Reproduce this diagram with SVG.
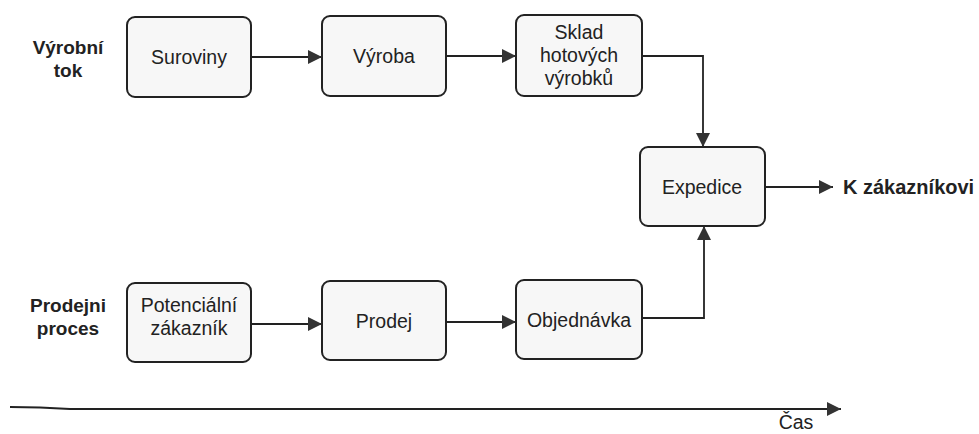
<svg xmlns="http://www.w3.org/2000/svg" width="979" height="434" viewBox="0 0 979 434">
<style>
.box{fill:#f7f7f7;stroke:#222;stroke-width:2}
.t{font-family:"Liberation Sans",Arial,sans-serif;font-size:19.5px;fill:#222;text-anchor:middle}
.lb{font-family:"Liberation Sans",Arial,sans-serif;font-size:19px;font-weight:bold;fill:#222}
.c{fill:none;stroke:#222;stroke-width:1.8}
</style>
<defs>
<marker id="ah" markerWidth="14" markerHeight="14" viewBox="0 0 14 14" refX="14" refY="7" orient="auto" markerUnits="userSpaceOnUse">
<path d="M0,0 L14,7 L0,14 Z" fill="#333"/>
</marker>
</defs>
<rect width="979" height="434" fill="#fff"/>
<text class="lb" x="68" y="54" text-anchor="middle">Výrobní</text>
<text class="lb" x="68" y="77" text-anchor="middle">tok</text>
<text class="lb" x="68" y="312" text-anchor="middle">Prodejni</text>
<text class="lb" x="68" y="335" text-anchor="middle">proces</text>
<g id="suroviny"><rect class="box" x="127" y="17" width="124" height="80" rx="8"/><text class="t" x="189" y="64">Suroviny</text></g>
<g id="vyroba"><rect class="box" x="322" y="16" width="124" height="80" rx="8"/><text class="t" x="384" y="63">Výroba</text></g>
<g id="sklad"><rect class="box" x="516" y="15" width="126" height="81" rx="8"/><text class="t" x="579" y="39">Sklad</text><text class="t" x="579" y="62">hotových</text><text class="t" x="579" y="85">výrobků</text></g>
<g id="expedice"><rect class="box" x="640" y="147" width="125" height="79" rx="8"/><text class="t" x="702" y="194">Expedice</text></g>
<g id="potencialni"><rect class="box" x="127" y="283" width="124" height="79" rx="8"/><text class="t" x="189" y="312">Potenciální</text><text class="t" x="189" y="335">zákazník</text></g>
<g id="prodej"><rect class="box" x="322" y="281" width="124" height="79" rx="8"/><text class="t" x="384" y="328">Prodej</text></g>
<g id="objednavka"><rect class="box" x="516" y="280" width="126" height="79" rx="8"/><text class="t" x="579" y="327">Objednávka</text></g>
<text class="lb" x="843" y="194" style="font-size:20px">K zákazníkovi</text>
<text class="t" x="796" y="429">Čas</text>
<g id="connectors">
<line class="c" x1="251" y1="57" x2="322" y2="57" marker-end="url(#ah)"/>
<line class="c" x1="446" y1="56" x2="516" y2="56" marker-end="url(#ah)"/>
<polyline class="c" points="642,56 703,56 703,147" marker-end="url(#ah)"/>
<line class="c" x1="765" y1="187" x2="833" y2="187" marker-end="url(#ah)"/>
<line class="c" x1="251" y1="324" x2="322" y2="324" marker-end="url(#ah)"/>
<line class="c" x1="446" y1="322" x2="516" y2="322" marker-end="url(#ah)"/>
<polyline class="c" points="642,318 704,318 704,226" marker-end="url(#ah)"/>
<path class="c" d="M10,407 Q40,407 70,409 L841,409" marker-end="url(#ah)"/>
</g>
</svg>
